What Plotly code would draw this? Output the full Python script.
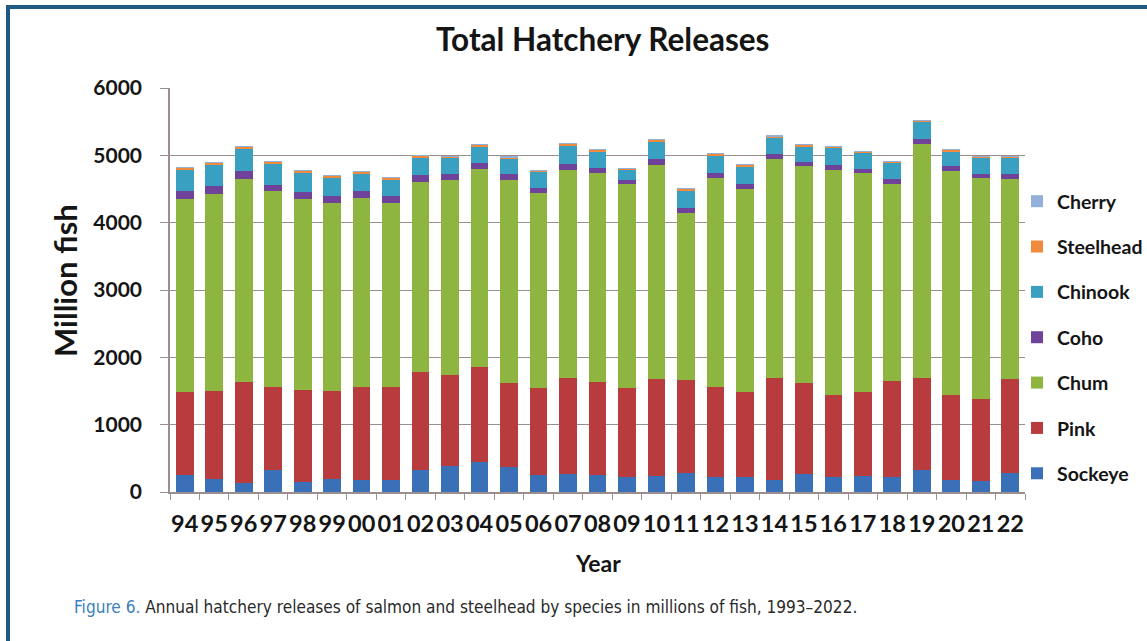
import plotly.graph_objects as go

# Release year labels (1994-2022, two-digit)
years = ["94", "95", "96", "97", "98", "99", "00", "01", "02", "03",
         "04", "05", "06", "07", "08", "09", "10", "11", "12", "13",
         "14", "15", "16", "17", "18", "19", "20", "21", "22"]

# Releases by species, millions of fish
sockeye = [257, 198, 133, 331, 148, 198, 173, 183, 331, 390,
           445, 371, 257, 267, 247, 222, 232, 282, 217, 217,
           183, 267, 217, 242, 217, 331, 183, 158, 282]
pink = [1225, 1309, 1497, 1235, 1369, 1309, 1383, 1383, 1448, 1349,
        1408, 1245, 1294, 1423, 1393, 1329, 1448, 1383, 1349, 1265,
        1507, 1349, 1226, 1250, 1438, 1359, 1260, 1225, 1393]
chum = [2876, 2925, 3024, 2900, 2841, 2786, 2812, 2732, 2826, 2890,
        2949, 3013, 2896, 3098, 3098, 3019, 3182, 2485, 3098, 3024,
        3251, 3221, 3345, 3246, 2915, 3473, 3325, 3281, 2979]
coho = [113, 108, 114, 99, 94, 99, 98, 99, 99, 99,
        84, 99, 74, 79, 79, 59, 79, 74, 74, 74,
        74, 64, 74, 64, 79, 74, 69, 64, 74]
chinook = [307, 322, 321, 302, 286, 272, 262, 242, 271, 237,
           252, 223, 232, 281, 247, 159, 271, 257, 262, 257,
           247, 237, 252, 233, 242, 263, 227, 247, 247]
steelhead = [34, 34, 35, 34, 40, 40, 25, 30, 20, 20,
             20, 24, 25, 25, 20, 14, 25, 25, 25, 20,
             25, 20, 20, 19, 15, 15, 25, 10, 10]
cherry = [2, 2, 2, 2, 2, 2, 2, 2, 2, 2,
          2, 2, 2, 2, 2, 2, 2, 2, 2, 2,
          2, 2, 2, 2, 2, 2, 2, 2, 2]

species = ["Sockeye", "Pink", "Chum", "Coho", "Chinook", "Steelhead", "Cherry"]
values = [sockeye, pink, chum, coho, chinook, steelhead, cherry]
colors = ["#3a70b8", "#b83b3d", "#8db540", "#70439a", "#3aa0c2", "#f08a3c", "#93b0da"]

FONT = "Lato"
INK = "#151515"
GRID = "#9a8e8e"

fig = go.Figure()
for i, (name, vals, col) in enumerate(zip(species, values, colors)):
    fig.add_trace(go.Bar(
        x=years, y=vals, name=name, legendgroup=name,
        legendrank=len(species) - i,
        marker=dict(color=col, line=dict(width=0)),
    ))

W, H = 1147, 641
L, R, T, B = 170, 122, 88, 149
pw, ph = W - L - R, H - T - B


def px_x(px):
    return (px - L) / pw


def px_y(py):
    return (H - B - py) / ph


fig.update_layout(
    width=W, height=H,
    margin=dict(l=L, r=R, t=T, b=B, autoexpand=False),
    barmode="stack", bargap=0.4,
    plot_bgcolor="white", paper_bgcolor="white",
    font=dict(family=FONT, color=INK, weight="bold"),
    title=dict(text="Total Hatchery Releases", x=0.5255, xanchor="center",
               y=1 - 40 / H, yanchor="middle",
               font=dict(size=31.5, family=FONT, color=INK, weight="bold")),
    legend=dict(x=px_x(1017), xanchor="left", y=px_y(182), yanchor="top",
                traceorder="grouped", tracegroupgap=17,
                font=dict(size=19.5, family=FONT, color=INK, weight="bold"),
                bgcolor="rgba(0,0,0,0)"),
    showlegend=True,
)

fig.update_xaxes(
    type="category", tickmode="array", tickvals=years, ticktext=years,
    tickangle=0,
    showline=True, linecolor=GRID, linewidth=1.5,
    ticks="outside", tickson="boundaries", ticklen=6, tickcolor=GRID,
    ticklabelstandoff=10,
    tickfont=dict(size=23.5, family=FONT, color=INK, weight="bold"),
    showgrid=False,
)
fig.update_yaxes(
    range=[0, 6000], tickvals=[0, 1000, 2000, 3000, 4000, 5000, 6000],
    showline=True, linecolor=GRID, linewidth=1.5,
    ticks="outside", ticklen=8, tickcolor=GRID, ticklabelstandoff=14,
    tickfont=dict(size=21, family=FONT, color=INK, weight="bold"),
    showgrid=True, gridcolor=GRID, gridwidth=1.2,
    zeroline=False,
)

# axis titles
fig.add_annotation(text="Million fish", xref="paper", yref="paper",
                   x=px_x(65), y=px_y(281), textangle=-90, showarrow=False,
                   xanchor="center", yanchor="middle",
                   font=dict(size=31, family=FONT, color=INK, weight="bold"))
fig.add_annotation(text="Year", xref="paper", yref="paper",
                   x=px_x(598), y=px_y(563), showarrow=False,
                   xanchor="center", yanchor="middle",
                   font=dict(size=23, family=FONT, color=INK, weight="bold"))

# figure caption
fig.add_annotation(
    text="<span style='color:#3b7fc0'>Figure 6.</span> Annual hatchery releases of salmon "
         "and steelhead by species in millions of fish, 1993–2022.",
    xref="paper", yref="paper", x=px_x(72), y=px_y(607), showarrow=False,
    xanchor="left", yanchor="middle",
    font=dict(size=17.1, family="DejaVu Sans Condensed, Roboto", color="#2a2a2a",
              weight="normal"))

# page frame
fig.add_shape(type="rect", xref="paper", yref="paper",
              x0=px_x(8), x1=px_x(1170), y0=px_y(680), y1=px_y(7),
              line=dict(color="#1d5b82", width=4), fillcolor="rgba(0,0,0,0)",
              layer="below")

fig.write_html("out.html")
